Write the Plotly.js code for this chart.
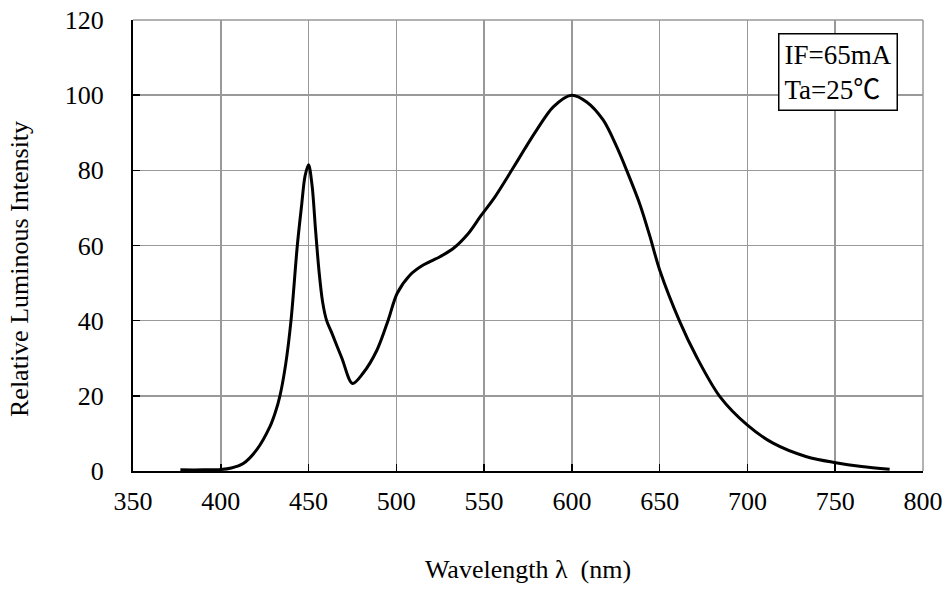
<!DOCTYPE html>
<html>
<head>
<meta charset="utf-8">
<script src="https://cdn.plot.ly/plotly-3.0.1.min.js"></script>
<style>html,body{margin:0;padding:0;background:#fff;}#chart{width:950px;height:592px;}</style>
</head>
<body>
<div id="chart"></div>
<script>
const wavelength = [377,390,400,406,412.8,420.4,428,431,433.7,437,440,443.6,446,448,450,452,454,456,458,460.3,463,469,475,481,489,495.4,500.5,507.7,515.3,524.8,532.4,541,548,556,565.7,573,579.9,589.4,599.8,608.4,617.8,625.5,631.2,638.7,644.4,650,661.5,671,684.3,700,714.6,733.7,750.3,765,781];
const intensity = [0.3,0.3,0.4,0.8,2,5.6,11.8,15.5,20,28.5,40,60,70.5,78.5,81.5,76,64,53,45,40,37,30,23.3,26,32.2,40.2,47.3,52.1,54.8,57,59.2,63.2,67.8,72.8,80,85.6,90.7,96.9,100,98.2,93.4,86.3,80,71,62.5,53.5,39.7,30.4,19.8,12.2,7.4,3.8,2.2,1.2,0.45];
const xTicks = [350,400,450,500,550,600,650,700,750,800];
const yTicks = [0,20,40,60,80,100,120];
const noteText = "IF=65mA<br>Ta=25℃";
const xTitle = "Wavelength λ  (nm)";
const yTitle = "Relative Luminous Intensity";

const serif = "Liberation Serif, Times New Roman, Noto Sans CJK JP, serif";
Plotly.newPlot('chart', [{
  x: wavelength, y: intensity, type: 'scatter', mode: 'lines',
  line: {color: '#000', width: 3, shape: 'spline', smoothing: 0.9},
  hoverinfo: 'skip'
}], {
  width: 950, height: 592,
  margin: {l: 133, r: 27, t: 20, b: 121},
  paper_bgcolor: '#fff', plot_bgcolor: '#fff',
  showlegend: false,
  font: {family: serif, color: '#000', size: 26},
  xaxis: {
    range: [350, 800], tickvals: xTicks, ticktext: xTicks.map(String),
    showgrid: true, gridcolor: '#999', gridwidth: 1.5,
    showline: true, linecolor: '#000', linewidth: 2,
    ticks: 'inside', ticklen: 7, tickcolor: '#000', tickwidth: 1.5,
    zeroline: false, ticklabelstandoff: 6,
    tickfont: {family: serif, size: 26, color: '#000'},
    title: {text: xTitle, font: {family: serif, size: 26, color: '#000'}, standoff: 45}
  },
  yaxis: {
    range: [0, 120], tickvals: yTicks, ticktext: yTicks.map(String),
    showgrid: true, gridcolor: '#999', gridwidth: 1.5,
    showline: true, linecolor: '#000', linewidth: 2,
    ticks: 'inside', ticklen: 7, tickcolor: '#000', tickwidth: 1.5,
    zeroline: false, ticklabelstandoff: 22,
    tickfont: {family: serif, size: 26, color: '#000'},
    title: {text: ''}
  },
  shapes: [
    {type: 'line', xref: 'paper', yref: 'paper', x0: 1, x1: 1, y0: 0, y1: 1, line: {color: '#999', width: 1.5}},
    {type: 'line', xref: 'paper', yref: 'paper', x0: 0, x1: 1, y0: 1, y1: 1, line: {color: '#999', width: 1.5}}
  ],
  annotations: [{
    xref: 'paper', yref: 'paper', x: 0.816, y: 0.972, xanchor: 'left', yanchor: 'top',
    text: noteText, showarrow: false, align: 'left',
    font: {family: serif, size: 27, color: '#000'},
    bordercolor: '#000', borderwidth: 1.5, borderpad: 5, bgcolor: '#fff'
  }, {
    xref: 'paper', yref: 'paper', x: -0.143, y: 0.448, xanchor: 'center', yanchor: 'middle',
    text: yTitle, textangle: -90, showarrow: false,
    font: {family: serif, size: 26, color: '#000'}
  }]
}, {staticPlot: true});
</script>
</body>
</html>
